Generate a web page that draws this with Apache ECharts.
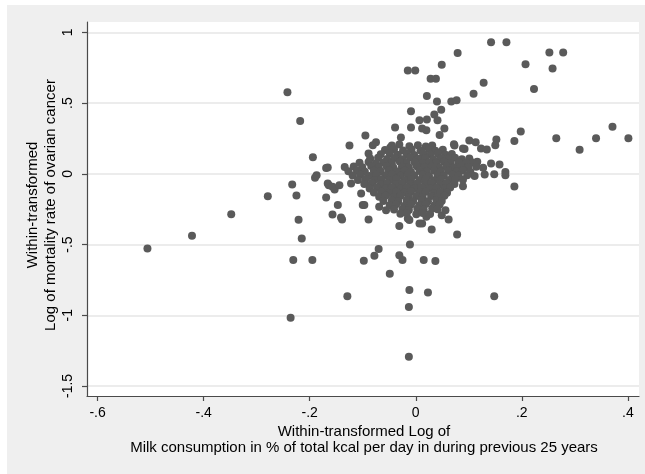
<!DOCTYPE html>
<html><head><meta charset="utf-8">
<script src="https://cdn.jsdelivr.net/npm/echarts@6/dist/echarts.min.js"></script>
<style>
html,body{margin:0;padding:0;background:#fff;}
#bg{position:absolute;left:7px;top:5px;width:638px;height:469px;background:#efefef;}
#c{position:absolute;left:0;top:0;width:645px;height:474px;}
</style>
</head><body><div id="bg"></div><div id="c"></div>
<script>
const xTicks = [-0.6, -0.4, -0.2, 0, 0.2, 0.4];
const yTicks = [-1.5, -1, -0.5, 0, 0.5, 1];
const xTitle = 'Within-transformed Log of\nMilk consumption in % of total kcal per day in during previous 25 years';
const yTitle = 'Within-transformed\nLog of mortality rate of ovarian cancer';

const outlierPoints = [
[0.142,0.931],[0.171,0.931],[0.079,0.854],[0.252,0.859],[0.278,0.859],[0.207,0.776],[0.258,0.745],[0.049,0.771],
[-0.015,0.731],[-0.001,0.731],[0.028,0.672],[0.038,0.672],[0.128,0.644],[0.223,0.601],[0.109,0.566],[0.021,0.55],
[-0.242,0.578],[0.040,0.512],[0.067,0.512],[0.077,0.521],[0.048,0.453],[-0.009,0.443],[-0.218,0.373],[0.007,0.38],
[0.021,0.385],[0.035,0.42],[0.041,0.38],[-0.039,0.328],[-0.009,0.328],[0.012,0.321],[0.02,0.309],[0.054,0.321],
[0.045,0.274],[-0.028,0.257],[-0.095,0.272],[-0.075,0.224],[-0.081,0.203],[-0.125,0.201],[-0.089,0.144],[-0.194,0.118],
[0.371,0.333],[0.340,0.252],[0.401,0.252],[0.265,0.252],[0.309,0.170],[0.198,0.300],[0.186,0.233],[0.101,0.236],
[0.113,0.224],[0.152,0.243],[0.150,0.203],[0.123,0.18],[0.134,0.173],[0.073,0.201],[0.092,0.175],[0.072,0.21],
[0.089,0.18],[0.142,0.074],[0.158,0.066],[0.169,0.014],[0.169,-0.009],[0.148,-0.002],[0.130,-0.004],[0.111,-0.016],
[0.186,-0.089],[0.089,-0.087],[-0.233,-0.075],[0.116,0.085],[0.101,0.109],[-0.048,0.187],
[-0.348,-0.285],[-0.279,-0.158],[-0.225,-0.153],[-0.221,-0.325],[-0.215,-0.457],[-0.231,-0.610],[-0.195,-0.610],
[-0.169,0.042],[-0.190,-0.028],[-0.187,-0.009],[-0.169,-0.167],[-0.164,-0.08],[-0.153,-0.110],[-0.147,-0.221],
[-0.157,-0.287],[-0.139,-0.322],[-0.141,-0.308],[-0.1,-0.221],[-0.089,-0.322],[-0.098,-0.615],[-0.078,-0.58],
[-0.07,-0.532],[-0.031,-0.575],[-0.025,-0.61],[-0.011,-0.499],[0.015,-0.61],[0.037,-0.617],[-0.031,-0.368],
[-0.015,-0.316],[0.012,-0.351],[0.030,-0.393],[0.062,-0.322],[0.049,-0.292],[0.056,-0.257],[0.078,-0.429],
[-0.129,-0.865],[-0.236,-1.018],[-0.012,-0.822],[-0.013,-0.941],[0.023,-0.839],[0.148,-0.865],[-0.013,-1.294],
[-0.049,-0.707],[-0.506,-0.528],[-0.422,-0.438],[-0.166,0.045],[-0.166,-0.068],[-0.157,-0.092],[-0.144,-0.08],
[-0.122,-0.068],[-0.103,-0.139],[-0.097,-0.221],[-0.069,-0.233],[-0.056,-0.257],[0.007,-0.351],[0.02,-0.304],[-0.012,-0.327]
];

const clusterPoints = [
[-0.045,0.200],[-0.031,0.207],[-0.012,0.196],[0.004,0.203],[0.019,0.194],[0.031,0.201],
[-0.058,0.168],[-0.041,0.174],[-0.024,0.165],[-0.008,0.172],[0.009,0.166],[0.025,0.175],[0.037,0.163],[0.051,0.170],
[-0.066,0.138],[-0.049,0.145],[-0.034,0.136],[-0.017,0.142],[-0.003,0.134],[0.014,0.143],[0.028,0.137],[0.042,0.146],[0.056,0.135],[0.068,0.141],
[-0.086,0.108],[-0.071,0.114],[-0.054,0.105],[-0.040,0.112],[-0.025,0.104],[-0.011,0.115],[0.005,0.107],[0.018,0.113],[0.033,0.104],[0.047,0.111],[0.061,0.106],[0.074,0.114],[0.087,0.103],
[-0.106,0.078],[-0.089,0.084],[-0.075,0.075],[-0.061,0.082],[-0.045,0.076],[-0.030,0.085],[-0.017,0.077],[-0.002,0.083],[0.012,0.074],[0.025,0.081],[0.039,0.076],[0.053,0.085],[0.066,0.077],[0.081,0.083],[0.095,0.074],[0.107,0.080],
[-0.134,0.048],[-0.117,0.052],[-0.101,0.046],[-0.084,0.055],[-0.070,0.047],[-0.055,0.053],[-0.042,0.044],[-0.026,0.051],[-0.013,0.045],[0.002,0.054],[0.016,0.046],[0.030,0.052],[0.044,0.043],[0.058,0.050],[0.072,0.045],[0.085,0.053],[0.099,0.047],[0.114,0.051],[0.127,0.044],
[-0.127,0.018],[-0.111,0.024],[-0.096,0.015],[-0.079,0.022],[-0.066,0.016],[-0.051,0.025],[-0.035,0.017],[-0.021,0.023],[-0.009,0.014],[0.007,0.021],[0.021,0.016],[0.035,0.024],[0.047,0.015],[0.061,0.022],[0.077,0.017],[0.089,0.025],[0.103,0.014],
[-0.119,-0.012],[-0.105,-0.006],[-0.087,-0.015],[-0.074,-0.008],[-0.057,-0.013],[-0.045,-0.005],[-0.029,-0.014],[-0.015,-0.007],[-0.003,-0.012],[0.013,-0.004],[0.025,-0.015],[0.041,-0.008],[0.053,-0.013],[0.069,-0.006],[0.081,-0.014],[0.097,-0.009],
[-0.109,-0.043],[-0.095,-0.036],[-0.078,-0.045],[-0.065,-0.038],[-0.049,-0.044],[-0.037,-0.035],[-0.021,-0.046],[-0.009,-0.037],[0.007,-0.043],[0.019,-0.034],[0.035,-0.045],[0.047,-0.038],[0.063,-0.044],[0.075,-0.036],[0.089,-0.042],
[-0.097,-0.072],[-0.083,-0.066],[-0.066,-0.075],[-0.054,-0.067],[-0.038,-0.073],[-0.026,-0.064],[-0.010,-0.074],[0.002,-0.068],[0.018,-0.075],[0.030,-0.065],[0.046,-0.073],[0.058,-0.066],[0.073,-0.072],
[-0.087,-0.103],[-0.073,-0.096],[-0.057,-0.104],[-0.045,-0.095],[-0.029,-0.105],[-0.017,-0.097],[-0.001,-0.102],[0.011,-0.094],[0.027,-0.105],[0.039,-0.098],[0.055,-0.103],[0.065,-0.096],
[-0.079,-0.132],[-0.065,-0.126],[-0.049,-0.135],[-0.037,-0.127],[-0.021,-0.134],[-0.009,-0.125],[0.007,-0.133],[0.019,-0.126],[0.035,-0.135],[0.047,-0.128],[0.059,-0.133],
[-0.069,-0.162],[-0.057,-0.155],[-0.041,-0.165],[-0.029,-0.157],[-0.013,-0.163],[0.001,-0.156],[0.013,-0.164],[0.029,-0.157],[0.041,-0.163],[0.054,-0.155],
[-0.061,-0.192],[-0.045,-0.186],[-0.033,-0.195],[-0.017,-0.187],[-0.005,-0.193],[0.011,-0.185],[0.023,-0.194],[0.039,-0.186],[0.049,-0.192],
[-0.049,-0.222],[-0.037,-0.215],[-0.021,-0.225],[-0.009,-0.216],[0.007,-0.223],[0.019,-0.214],[0.035,-0.224],[0.045,-0.217],
[-0.041,-0.252],[-0.025,-0.246],[-0.013,-0.255],[0.003,-0.247],[0.015,-0.253],[0.031,-0.245],[0.041,-0.251],
[-0.029,-0.282],[-0.017,-0.276],[0.001,-0.285],[0.013,-0.277],[0.027,-0.283]
];

function stataFmt(v){
  let s = String(Math.round(v*10)/10);
  return s.replace(/^(-?)0\./, '$1.');
}
const FONT = '"Liberation Sans", Arial, sans-serif';
const AXIS_COLOR = '#4a4a4a';
const MARK = '#5a5a5a';

const chart = echarts.init(document.getElementById('c'), null, {renderer:'canvas'});
chart.setOption({
  animation: false,
  backgroundColor: 'transparent',
  grid: {left: 87, right: 6, top: 22, bottom: 78, show: true, backgroundColor: '#ffffff', borderWidth: 0},
  xAxis: {
    type: 'value', min: -0.62, max: 0.421,
    axisLine: {show: true, onZero: false, lineStyle: {color: AXIS_COLOR, width: 1.2}},
    axisTick: {show: true, length: 5, customValues: xTicks, lineStyle: {color: AXIS_COLOR, width: 1.2}},
    axisLabel: {customValues: xTicks, formatter: stataFmt, color: '#000', fontSize: 14, fontFamily: FONT, margin: 10},
    splitLine: {show: false}
  },
  yAxis: {
    type: 'value', min: -1.571, max: 1.074,
    axisLine: {show: true, onZero: false, lineStyle: {color: AXIS_COLOR, width: 1.2}},
    axisTick: {show: true, length: 5, customValues: yTicks, lineStyle: {color: AXIS_COLOR, width: 1.2}},
    axisLabel: {customValues: yTicks, formatter: stataFmt, rotate: 90, color: '#000', fontSize: 14, fontFamily: FONT, margin: 12},
    splitLine: {show: false}
  },
  graphic: [
    {type: 'text', x: 42, y: 205, rotation: Math.PI/2,
     style: {text: yTitle, align: 'center', verticalAlign: 'middle', font: '15px ' + FONT, fill: '#000', lineHeight: 18}},
    {type: 'text', x: 364, y: 440,
     style: {text: xTitle, align: 'center', verticalAlign: 'middle', font: '15px ' + FONT, fill: '#000', lineHeight: 16.6}}
  ],
  series: [
    {
      type: 'scatter', data: [], z: 0, silent: true,
      markLine: {
        silent: true, z: 0, symbol: ['none','none'], label: {show: false},
        lineStyle: {color: '#e6e6e6', width: 1.5, type: 'solid'},
        data: yTicks.map(v => ({yAxis: v}))
      }
    },
    {
      type: 'scatter', z: 6, symbol: 'circle', symbolSize: 8,
      itemStyle: {color: MARK, opacity: 1},
      data: outlierPoints.concat(clusterPoints)
    }
  ]
});
</script>
</body></html>
